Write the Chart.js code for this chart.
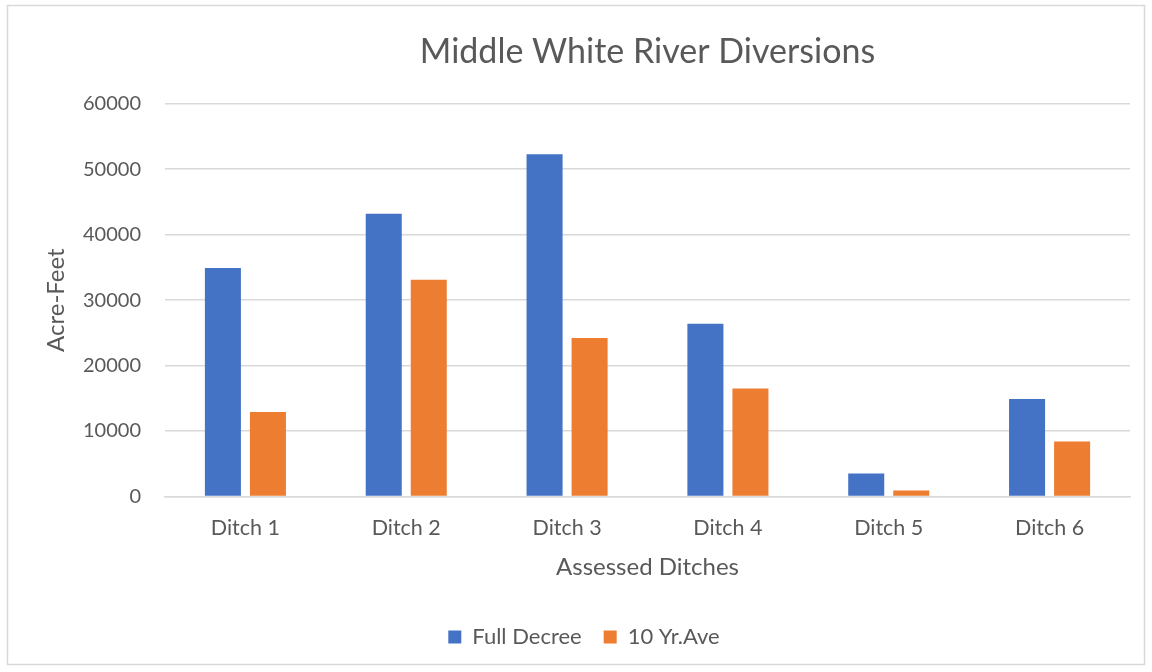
<!DOCTYPE html>
<html>
<head>
<meta charset="utf-8">
<script src="https://cdn.jsdelivr.net/npm/chart.js@4"></script>
<style>
  body { margin: 0; background: #fff; }
  #wrap { width: 1152px; height: 672px; position: relative; }
</style>
</head>
<body>
<div id="wrap"><canvas id="chart" width="1152" height="672"></canvas></div>
<script>
const categories = ['Ditch 1', 'Ditch 2', 'Ditch 3', 'Ditch 4', 'Ditch 5', 'Ditch 6'];
const fullDecree = [34900, 43200, 52300, 26400, 3500, 14900];
const tenYrAve = [12900, 33100, 24200, 16500, 900, 8400];
const yTicks = [0, 10000, 20000, 30000, 40000, 50000, 60000];

const textColor = '#595959';
const fontFamily = "Lato, 'Open Sans', sans-serif";

// light grey frame round the whole chart
const frame = {
    id: 'frame',
    beforeDraw(chart) {
        const ctx = chart.ctx;
        ctx.save();
        ctx.fillStyle = '#fff';
        ctx.fillRect(0, 0, chart.width, chart.height);
        ctx.strokeStyle = '#d9d9d9';
        ctx.lineWidth = 1.5;
        ctx.strokeRect(7.5, 5.5, 1137, 659);
        ctx.restore();
    }
};

const ctx = document.getElementById('chart');
const chart = new Chart(ctx, {
    type: 'bar',
    data: {
        labels: categories,
        datasets: [
            { label: 'Full Decree', data: fullDecree, backgroundColor: '#4472c4' },
            { label: '10 Yr.Ave', data: tenYrAve, backgroundColor: '#ed7d31' }
        ]
    },
    options: {
        responsive: false,
        animation: false,
        datasets: {
            bar: { categoryPercentage: 0.56, barPercentage: 0.8 }
        },
        layout: { padding: { left: 38, right: 22, top: 10, bottom: 14 } },
        plugins: {
            title: {
                display: true,
                fullSize: false,
                text: 'Middle White River Diversions',
                color: textColor,
                font: { family: fontFamily, size: 34, weight: 'normal' },
                padding: { top: 22, bottom: 31 }
            },
            legend: {
                position: 'bottom',
                labels: {
                    color: textColor,
                    font: { family: fontFamily, size: 22 },
                    boxWidth: 13,
                    boxHeight: 13,
                    padding: 22
                }
            },
            tooltip: { enabled: false }
        },
        scales: {
            x: {
                grid: { display: false },
                border: { color: '#d9d9d9', width: 1.5 },
                ticks: {
                    color: textColor,
                    font: { family: fontFamily, size: 21.5 },
                    padding: 11
                },
                title: {
                    display: true,
                    text: 'Assessed Ditches',
                    color: textColor,
                    font: { family: fontFamily, size: 24 },
                    padding: { top: 1, bottom: 22 }
                }
            },
            y: {
                min: 0,
                max: 60000,
                afterBuildTicks(axis) {
                    axis.ticks = yTicks.map(v => ({ value: v }));
                },
                afterFit(axis) { axis.width = 127; },
                grid: { color: '#d9d9d9', lineWidth: 1.5, drawTicks: false },
                border: { display: false },
                ticks: {
                    color: textColor,
                    font: { family: fontFamily, size: 20 },
                    padding: 24,
                    callback: v => String(v)
                },
                title: {
                    display: true,
                    text: 'Acre-Feet',
                    color: textColor,
                    font: { family: fontFamily, size: 24 },
                    padding: { bottom: 20 }
                }
            }
        }
    },
    plugins: [frame]
});
</script>
</body>
</html>
